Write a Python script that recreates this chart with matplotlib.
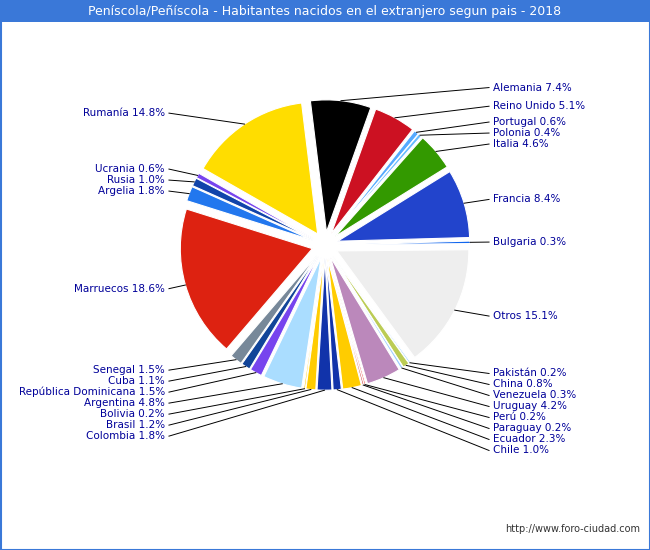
import matplotlib
matplotlib.use("Agg")
import matplotlib.pyplot as plt
import numpy as np

title = "Peníscola/Peñíscola - Habitantes nacidos en el extranjero segun pais - 2018"
countries = ["Alemania","Reino Unido","Portugal","Polonia","Italia","Francia","Bulgaria","Otros",
             "Pakistán","China","Venezuela","Uruguay","Perú","Paraguay","Ecuador","Chile",
             "Colombia","Brasil","Bolivia","Argentina","República Dominicana","Cuba","Senegal",
             "Marruecos","Argelia","Rusia","Ucrania","Rumanía"]
shares = [7.4,5.1,0.6,0.4,4.6,8.4,0.3,15.1,0.2,0.8,0.3,4.2,0.2,0.2,2.3,1.0,1.8,1.2,0.2,4.8,
          1.5,1.1,1.5,18.6,1.8,1.0,0.6,14.8]
colors = ["#000000","#cc1122","#55aaff","#66bbff","#339900","#2244cc","#1166ee","#eeeeee",
          "#88ccff","#bbcc55","#99ccff","#bb88bb","#ee4444","#cc3333","#ffcc00","#1133aa",
          "#1133aa","#ffcc00","#ffcc00","#aaddff","#7744ee","#114499","#778899",
          "#dd2211","#2277ee","#1144aa","#7744ee","#ffdd00"]

W, H = 650, 550
fig = plt.figure(figsize=(6.5, 5.5), dpi=100)
fig.patch.set_facecolor("white")
cx, cy, R = 325, 245, 132
ax = fig.add_axes([0, 0, 1, 1])

start = 97
wedges, _ = ax.pie(shares, colors=colors, startangle=start, counterclock=False,
                   explode=[0.1] * len(shares), radius=1.0, center=(0, 0),
                   wedgeprops=dict(edgecolor="white", linewidth=0.8), frame=True)
ax.set_xlim(-cx / R, (W - cx) / R)
ax.set_ylim(-(H - cy) / R, cy / R)
ax.set_aspect("auto")
ax.axis("off")

ang = []
acc = 0
for s in shares:
    ang.append(np.deg2rad(start - (acc + s / 2) * 3.6))
    acc += s
right = [i for i, a in enumerate(ang) if np.cos(a) >= 0]
left = [i for i, a in enumerate(ang) if np.cos(a) < 0]
gap = 11.0 / R
def place(idx):
    ys = {i: 1.2 * np.sin(ang[i]) for i in idx}
    order = sorted(idx, key=lambda i: -ys[i])
    pos = []
    for k, i in enumerate(order):
        y = ys[i]
        if k and y > pos[-1] - gap:
            y = pos[-1] - gap
        pos.append(y)
    return dict(zip(order, pos))
py = {}
py.update(place(right)); py.update(place(left))
txtcol = "#000099"
for i, a in enumerate(ang):
    r0 = 1.1
    x0, y0 = r0 * np.cos(a), r0 * np.sin(a)
    lab = f"{countries[i]} {shares[i]:.1f}%"
    if np.cos(a) >= 0:
        tx = (493 - cx) / R
        ax.plot([x0, tx - 0.03], [y0, py[i]], color="black", lw=0.7)
        ax.text(tx, py[i], lab, ha="left", va="center", fontsize=7.5, color=txtcol)
    else:
        tx = (165 - cx) / R
        ax.plot([x0, tx + 0.03], [y0, py[i]], color="black", lw=0.7)
        ax.text(tx, py[i], lab, ha="right", va="center", fontsize=7.5, color=txtcol)

fig.add_artist(plt.Rectangle((0, 1 - 22 / H), 1, 22 / H, transform=fig.transFigure,
                             facecolor="#3a78d8", edgecolor="none"))
fig.text(0.5, 1 - 11 / H, title, ha="center", va="center", color="white", fontsize=9)
fig.add_artist(plt.Rectangle((0.5 / W, 0.5 / H), 1 - 1 / W, 1 - 1 / H, transform=fig.transFigure,
                             facecolor="none", edgecolor="#3a78d8", lw=1.5))
fig.text(640 / W, 1 - 529 / H, "http://www.foro-ciudad.com", ha="right", va="center",
         fontsize=7, color="#333333")
fig.savefig("out.png", dpi=100)
